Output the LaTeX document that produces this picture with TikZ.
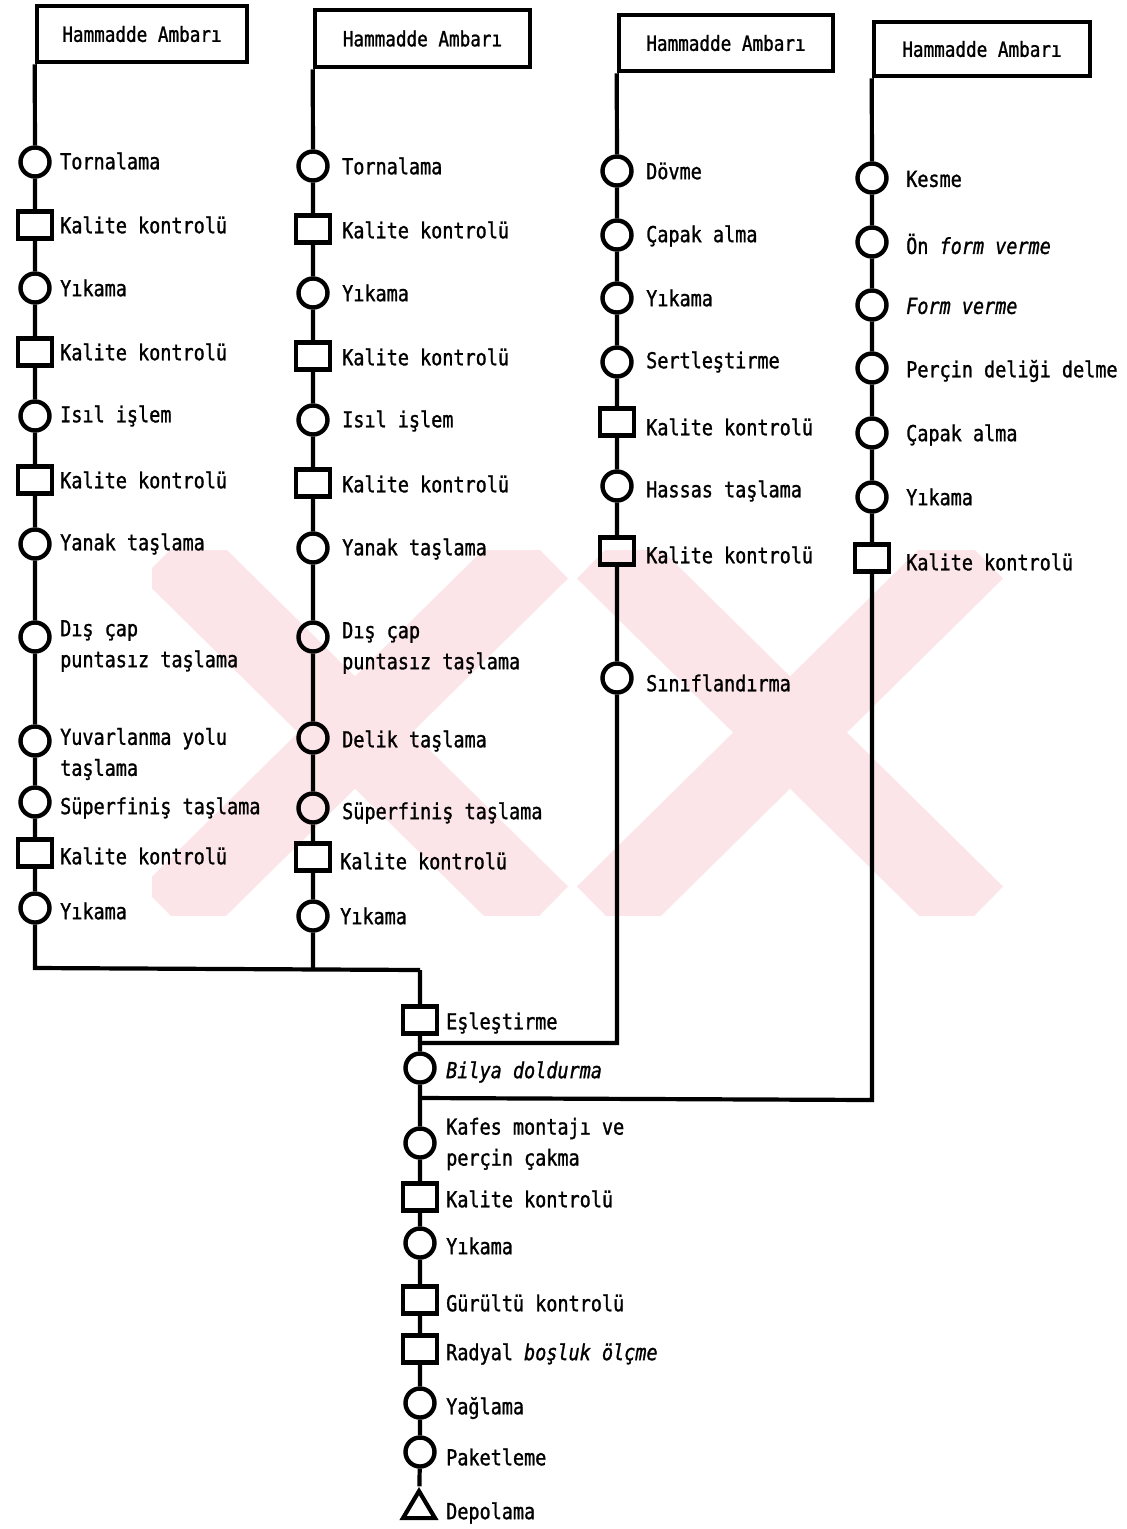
\documentclass[tikz,border=0pt]{standalone}
\usepackage{fontspec}
\newfontfamily\lbl[FakeStretch=0.84,FakeBold=1.2]{DejaVu Sans Mono}
\usetikzlibrary{shapes.geometric}
\definecolor{wm}{RGB}{252,229,233}
\begin{document}
\begin{tikzpicture}[x=1pt,y=-1pt,
  flow/.style={line width=4.2pt},
  op/.style={circle,draw,line width=4.4pt,minimum size=29pt,inner sep=0pt},
  qc/.style={rectangle,draw,line width=4.2pt,minimum width=34pt,minimum height=27pt,inner sep=0pt},
  store/.style={isosceles triangle,isosceles triangle stretches,shape border rotate=90,draw,line width=4.2pt,minimum height=27pt,minimum width=32pt,inner sep=0pt},
  src/.style={rectangle,draw,line width=4.5pt,inner sep=0pt,font=\lbl\fontsize{21}{24}\selectfont},
  lab/.style={anchor=west,inner sep=0pt,align=left,font=\lbl\fontsize{22}{31}\selectfont},
]
\useasboundingbox (0,0) rectangle (1127,1529);
% watermark
\begin{scope}
\clip (152,550) rectangle (1105,915);
\draw[wm,line width=80pt] (170,550) -- (540,915);
\draw[wm,line width=80pt] (540,550) -- (170,915);
\draw[wm,line width=80pt] (605,550) -- (975,915);
\draw[wm,line width=80pt] (975,550) -- (605,915);
\end{scope}

% ---------- column 1 ----------
\node[src,minimum width=210pt,minimum height=56pt] (b1) at (142,34) {Hammadde Ambarı};
\node[op] (p1) at (35,162) {};
\node[qc] (p2) at (35,225) {};
\node[op] (p3) at (35,288) {};
\node[qc] (p4) at (35,352) {};
\node[op] (p5) at (35,416) {};
\node[qc] (p6) at (35,480) {};
\node[op] (p7) at (35,544) {};
\node[op] (p8) at (35,637) {};
\node[op] (p9) at (35,741) {};
\node[op] (p10) at (35,802) {};
\node[qc] (p11) at (35,853) {};
\node[op] (p12) at (35,908) {};
\coordinate (c1) at (35,968);
\coordinate (j1) at (420,970);
\draw[flow] (b1.south west) -- (p1) -- (p2) -- (p3) -- (p4) -- (p5) -- (p6) -- (p7) -- (p8) -- (p9) -- (p10) -- (p11) -- (p12) -- (c1) -- (j1);
\node[lab] (lp1) at (60,161) {Tornalama};
\node[lab] (lp2) at (60,225) {Kalite kontrolü};
\node[lab] (lp3) at (60,288) {Yıkama};
\node[lab] (lp4) at (60,352) {Kalite kontrolü};
\node[lab] (lp5) at (60,416) {Isıl işlem};
\node[lab] (lp6) at (60,480) {Kalite kontrolü};
\node[lab] (lp7) at (60,544) {Yanak taşlama};
\node[lab] (lp8) at (60,646) {Dış çap\\puntasız taşlama};
\node[lab] (lp9) at (60,754) {Yuvarlanma yolu\\taşlama};
\node[lab] (lp10) at (60,808) {Süperfiniş taşlama};
\node[lab] (lp11) at (60,856) {Kalite kontrolü};
\node[lab] (lp12) at (60,911) {Yıkama};

% ---------- column 2 ----------
\node[src,minimum width=215pt,minimum height=57pt] (b2) at (422.5,38.5) {Hammadde Ambarı};
\node[op] (q1) at (313,166) {};
\node[qc] (q2) at (313,229) {};
\node[op] (q3) at (313,293) {};
\node[qc] (q4) at (313,356) {};
\node[op] (q5) at (313,420) {};
\node[qc] (q6) at (313,483) {};
\node[op] (q7) at (313,548) {};
\node[op] (q8) at (313,637) {};
\node[op] (q9) at (313,738) {};
\node[op] (q10) at (313,808) {};
\node[qc] (q11) at (313,857) {};
\node[op] (q12) at (313,916) {};
\coordinate (c2) at (313,969);
\draw[flow] (b2.south west) -- (q1) -- (q2) -- (q3) -- (q4) -- (q5) -- (q6) -- (q7) -- (q8) -- (q9) -- (q10) -- (q11) -- (q12) -- (c2);
\node[lab] (lq1) at (342,166) {Tornalama};
\node[lab] (lq2) at (342,230) {Kalite kontrolü};
\node[lab] (lq3) at (342,293) {Yıkama};
\node[lab] (lq4) at (342,357) {Kalite kontrolü};
\node[lab] (lq5) at (342,421) {Isıl işlem};
\node[lab] (lq6) at (342,484) {Kalite kontrolü};
\node[lab] (lq7) at (342,549) {Yanak taşlama};
\node[lab] (lq8) at (342,648) {Dış çap\\puntasız taşlama};
\node[lab] (lq9) at (342,741) {Delik taşlama};
\node[lab] (lq10) at (342,813) {Süperfiniş taşlama};
\node[lab] (lq11) at (340,861) {Kalite kontrolü};
\node[lab] (lq12) at (340,916) {Yıkama};

% ---------- column 3 ----------
\node[src,minimum width=214pt,minimum height=56pt] (b3) at (726,43) {Hammadde Ambarı};
\node[op] (r1) at (617,171) {};
\node[op] (r2) at (617,235) {};
\node[op] (r3) at (617,298) {};
\node[op] (r4) at (617,362) {};
\node[qc] (r5) at (617,422) {};
\node[op] (r6) at (617,486) {};
\node[qc] (r7) at (617,551) {};
\node[op] (r8) at (617,678) {};
\coordinate (k3) at (617,1043);
\coordinate (k3m) at (420,1043);
\draw[flow] (b3.south west) -- (r1) -- (r2) -- (r3) -- (r4) -- (r5) -- (r6) -- (r7) -- (r8) -- (k3) -- (k3m);
\node[lab] (lr1) at (646,171) {Dövme};
\node[lab] (lr2) at (646,236) {Çapak alma};
\node[lab] (lr3) at (646,298) {Yıkama};
\node[lab] (lr4) at (646,362) {Sertleştirme};
\node[lab] (lr5) at (646,427) {Kalite kontrolü};
\node[lab] (lr6) at (646,491) {Hassas taşlama};
\node[lab] (lr7) at (646,555) {Kalite kontrolü};
\node[lab] (lr8) at (646,683) {Sınıflandırma};

% ---------- column 4 ----------
\node[src,minimum width=216pt,minimum height=54pt] (b4) at (982,49) {Hammadde Ambarı};
\node[op] (s1) at (872,178) {};
\node[op] (s2) at (872,242) {};
\node[op] (s3) at (872,305) {};
\node[op] (s4) at (872,368) {};
\node[op] (s5) at (872,433) {};
\node[op] (s6) at (872,497) {};
\node[qc] (s7) at (872,558) {};
\coordinate (k4) at (872,1100);
\coordinate (k4m) at (420,1098);
\draw[flow] (b4.south west) -- (s1) -- (s2) -- (s3) -- (s4) -- (s5) -- (s6) -- (s7) -- (k4) -- (k4m);
\node[lab] (ls1) at (906,179) {Kesme};
\node[lab] (ls2) at (906,244) {Ön \textit{form verme}};
\node[lab] (ls3) at (906,306) {\textit{Form verme}};
\node[lab] (ls4) at (906,371) {Perçin deliği delme};
\node[lab] (ls5) at (906,435) {Çapak alma};
\node[lab] (ls6) at (906,497) {Yıkama};
\node[lab] (ls7) at (906,562) {Kalite kontrolü};

% ---------- main line ----------
\node[qc] (m1) at (420,1020) {};
\node[op] (m2) at (420,1068) {};
\node[op] (m3) at (420,1143) {};
\node[qc] (m4) at (420,1197) {};
\node[op] (m5) at (420,1243) {};
\node[qc] (m6) at (420,1300) {};
\node[qc] (m7) at (420,1349) {};
\node[op] (m8) at (420,1403) {};
\node[op] (m9) at (420,1452) {};
\node[store] (m10) at (419,1509) {};
\draw[flow] (j1) -- (m1) -- (m2) -- (m3) -- (m4) -- (m5) -- (m6) -- (m7) -- (m8) -- (m9) -- (m10);
\node[lab] (lm1) at (446,1023) {Eşleştirme};
\node[lab] (lm2) at (446,1072) {\textit{Bilya doldurma}};
\node[lab] (lm3) at (446,1144) {Kafes montajı ve\\perçin çakma};
\node[lab] (lm4) at (446,1199) {Kalite kontrolü};
\node[lab] (lm5) at (446,1246) {Yıkama};
\node[lab] (lm6) at (446,1303) {Gürültü kontrolü};
\node[lab] (lm7) at (446,1354) {Radyal \textit{boşluk ölçme}};
\node[lab] (lm8) at (446,1408) {Yağlama};
\node[lab] (lm9) at (446,1457) {Paketleme};
\node[lab] (lm10) at (446,1513) {Depolama};
\end{tikzpicture}
\end{document}
